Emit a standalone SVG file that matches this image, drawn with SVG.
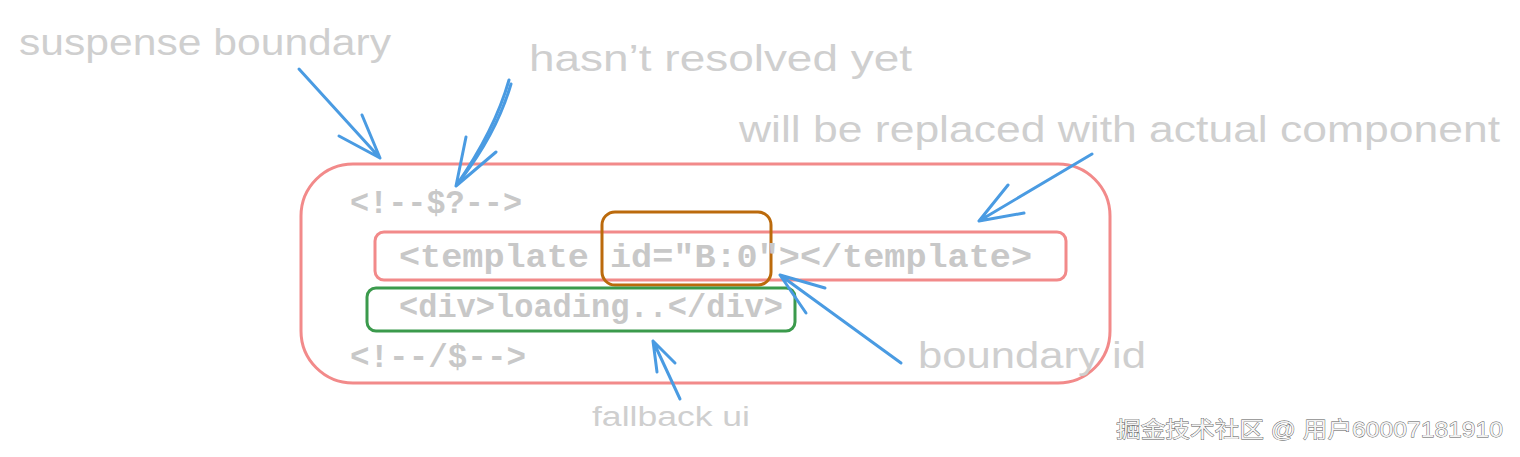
<svg xmlns="http://www.w3.org/2000/svg" width="1520" height="457" viewBox="0 0 1520 457">
<style>
.lbl{font-family:"Liberation Sans","Noto Sans",sans-serif;fill:#cfcfcf;}
.code{font-family:"Liberation Mono","DejaVu Sans Mono",monospace;fill:#c8c8c8;font-size:34px;font-weight:bold;}
.arr{fill:none;stroke:#4a9be2;stroke-width:3;stroke-linecap:round;stroke-linejoin:round;}
.box{fill:none;stroke-width:3;}
.wm{font-family:"Liberation Sans","Noto Sans CJK SC",sans-serif;font-size:22px;fill:#f4f4f4;stroke:#555;stroke-width:0.8;paint-order:stroke;}
</style>
<rect width="1520" height="457" fill="#ffffff"/>

<g id="boundary-box">
<rect class="box" x="301" y="164" width="809" height="219" rx="52" stroke="#f28a8a"/>
</g>
<g id="template-box">
<rect class="box" x="375" y="232" width="691" height="48" rx="9" stroke="#f28a8a"/>
</g>
<g id="id-box">
<rect class="box" x="602" y="212" width="169" height="73" rx="13" stroke="#bb6a0c"/>
</g>
<g id="fallback-box">
<rect class="box" x="367" y="288" width="428" height="43" rx="9" stroke="#3b9a4c"/>
</g>

<g id="code">
<text class="code" x="350" y="213" textLength="172" lengthAdjust="spacingAndGlyphs">&lt;!--$?--&gt;</text>
<text class="code" x="399" y="267" textLength="633" lengthAdjust="spacingAndGlyphs">&lt;template id="B:0"&gt;&lt;/template&gt;</text>
<text class="code" x="399" y="317" textLength="384" lengthAdjust="spacingAndGlyphs">&lt;div&gt;loading..&lt;/div&gt;</text>
<text class="code" x="350" y="367" textLength="176" lengthAdjust="spacingAndGlyphs">&lt;!--/$--&gt;</text>
</g>

<g id="label-suspense">
<text class="lbl" x="19" y="55" font-size="36" textLength="372" lengthAdjust="spacingAndGlyphs">suspense boundary</text>
</g>
<g id="label-unresolved">
<text class="lbl" x="529" y="71" font-size="36" textLength="383" lengthAdjust="spacingAndGlyphs">hasn’t resolved yet</text>
</g>
<g id="label-replaced">
<text class="lbl" x="739" y="142" font-size="36" textLength="761" lengthAdjust="spacingAndGlyphs">will be replaced with actual component</text>
</g>
<g id="label-boundary-id">
<text class="lbl" x="918" y="368" font-size="36" textLength="228" lengthAdjust="spacingAndGlyphs">boundary id</text>
</g>
<g id="label-fallback">
<text class="lbl" x="592" y="426" font-size="27" textLength="158" lengthAdjust="spacingAndGlyphs">fallback ui</text>
</g>

<g id="connectors">
<path class="arr" d="M299 69 L380 158 M362 115 L380 158 L339 136"/>
<path class="arr" d="M509 80 Q495 130 456 186 M466 137 L456 186 L496 152"/>
<path class="arr" d="M511 84 Q497 132 462 178"/>
<path class="arr" d="M1092 154 L979 221 M1008 185 L979 221 L1024 213"/>
<path class="arr" d="M901 363 L780 275 M825 288 L780 275 L806 313"/>
<path class="arr" d="M680 399 L653 341 M657 372 L653 341 L675 363"/>
</g>

<text class="wm" x="1116" y="437" textLength="387" lengthAdjust="spacingAndGlyphs">掘金技术社区 @ 用户60007181910</text>
</svg>
